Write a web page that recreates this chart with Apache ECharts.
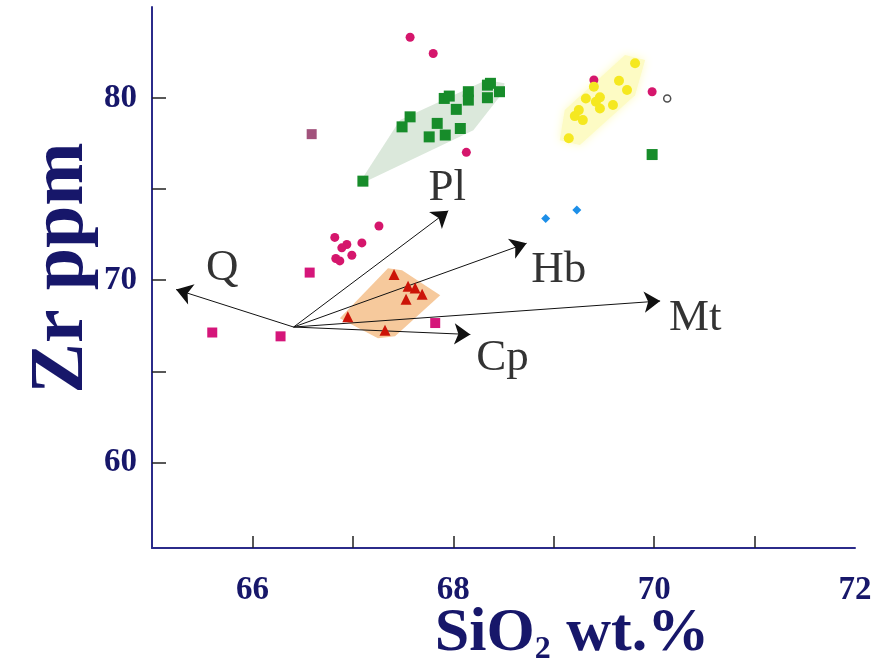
<!DOCTYPE html>
<html>
<head>
<meta charset="utf-8">
<script src="https://cdn.jsdelivr.net/npm/echarts@6/dist/echarts.min.js"></script>
<style>
  html, body { margin: 0; padding: 0; background: #fff; }
  #chart { width: 879px; height: 662px; }
</style>
</head>
<body>
<div id="chart"></div>
<script>
// 刻度
const xTickValues = [66, 67, 68, 69, 70, 71];
const xLabelValues = [66, 68, 70, 72];
const yTickValues = [60, 65, 70, 75, 80];
const yLabelValues = [60, 70, 80];

// 数据点 [SiO2, Zr]
const greenSquares = [
  [67.10, 75.44], [67.49, 78.42], [67.57, 78.97], [67.76, 77.87], [67.84, 78.61],
  [67.92, 77.97], [67.91, 79.98], [67.96, 80.11], [68.03, 79.38], [68.07, 78.33],
  [68.15, 80.35], [68.15, 79.89], [68.34, 80.71], [68.34, 80.02], [68.37, 80.81],
  [68.46, 80.35], [69.98, 76.90]
];
const mauveSquares = [[66.59, 78.02]];
const pinkSquares = [[66.57, 70.42], [67.82, 67.65], [65.60, 67.13], [66.28, 66.92]];
const pinkCircles = [
  [67.57, 83.34], [67.80, 82.45], [68.13, 77.02], [69.40, 80.99], [69.98, 80.35],
  [67.26, 72.98], [66.82, 72.35], [66.94, 71.96], [66.89, 71.78], [67.09, 72.05],
  [66.99, 71.37], [66.83, 71.19], [66.87, 71.06]
];
const openCircles = [[70.13, 79.98]];
const redTriangles = [
  [67.41, 70.31], [67.55, 69.67], [67.62, 69.58], [67.69, 69.23], [67.53, 68.96],
  [66.95, 68.00], [67.32, 67.25]
];
const yellowCircles = [
  [69.81, 81.91], [69.15, 77.79], [69.65, 80.95], [69.73, 80.44], [69.40, 80.62],
  [69.32, 79.98], [69.46, 80.04], [69.42, 79.80], [69.46, 79.43], [69.59, 79.62],
  [69.25, 79.34], [69.21, 79.01], [69.29, 78.79]
];
const blueDiamonds = [[68.92, 73.39], [69.23, 73.85]];

// 区域
const greenField = [[67.05, 75.22], [67.47, 78.79], [68.33, 80.99], [68.51, 80.81], [68.50, 80.35], [68.20, 78.24]];
const yellowField = [[69.06, 77.69], [69.11, 79.34], [69.71, 82.36], [69.91, 82.09], [69.81, 80.16], [69.26, 77.42]];
const orangeField = [[66.87, 67.91], [67.35, 70.66], [67.49, 70.55], [67.87, 69.18], [67.42, 66.92], [67.25, 66.81]];

// 矢量
const vectorOrigin = [66.41, 67.43];
const vectorNames = ["Q", "Pl", "Hb", "Mt", "Cp"];
const vectorEnds = [[65.24, 69.49], [67.95, 73.81], [68.73, 72.03], [70.06, 68.86], [68.17, 67.02]];
const vectorLabelPos = [[65.70, 70.66], [67.94, 75.05], [69.05, 70.55], [70.41, 67.91], [68.49, 65.71]];

const navy = "#17176a";
const serif = '"Liberation Serif", "Times New Roman", serif';

function polygonSeries(points, fill, blur) {
  return {
    type: "custom",
    silent: true,
    z: 1,
    data: [0],
    renderItem: (params, api) => ({
      type: "polygon",
      shape: { points: points.map((p) => api.coord(p)) },
      style: { fill: fill, shadowBlur: blur || 0, shadowColor: fill },
    }),
  };
}

function scatter(data, symbol, size, color, extra) {
  return Object.assign({
    type: "scatter",
    z: 5,
    symbol: symbol,
    symbolSize: size,
    data: data,
    itemStyle: { color: color, opacity: 1 },
  }, extra || {});
}

const options = {
  animation: false,
  grid: { left: 152, right: 24, top: 7, bottom: 114 },
  xAxis: {
    type: "value",
    min: 65,
    max: 72,
    axisLine: { show: true, lineStyle: { color: "#2b2b8a", width: 2 } },
    axisTick: { show: true, inside: true, length: 12, customValues: xTickValues, lineStyle: { color: "#222", width: 1.5 } },
    axisLabel: {
      customValues: xLabelValues,
      margin: 26,
      color: navy,
      fontFamily: serif,
      fontWeight: "bold",
      fontSize: 33,
    },
    splitLine: { show: false },
  },
  yAxis: {
    type: "value",
    min: 55.3,
    max: 85,
    axisLine: { show: true, lineStyle: { color: "#2b2b8a", width: 2 } },
    axisTick: { show: true, inside: true, length: 14, customValues: yTickValues, lineStyle: { color: "#222", width: 1.5 } },
    axisLabel: {
      customValues: yLabelValues,
      margin: 15,
      color: navy,
      fontFamily: serif,
      fontWeight: "bold",
      fontSize: 33,
    },
    splitLine: { show: false },
  },
  graphic: [
    {
      type: "text",
      x: 62,
      y: 268,
      rotation: Math.PI / 2,
      style: {
        text: "Zr ppm",
        fill: navy,
        font: "bold 76px " + serif,
        align: "center",
        verticalAlign: "middle",
      },
    },
    {
      type: "text",
      x: 572,
      y: 634,
      style: {
        text: "{a|SiO}{b|2}{a| wt.%}",
        align: "center",
        verticalAlign: "middle",
        rich: {
          a: { fill: navy, fontFamily: serif, fontWeight: "bold", fontSize: 62 },
          b: { fill: navy, fontFamily: serif, fontWeight: "bold", fontSize: 32, padding: [32, 0, 0, 0] },
        },
      },
    },
  ],
  series: [
    polygonSeries(greenField, "#dbe8db"),
    polygonSeries(yellowField, "#fdfbc4", 10),
    polygonSeries(orangeField, "#f6c99c"),
    {
      type: "lines",
      coordinateSystem: "cartesian2d",
      z: 3,
      symbol: ["none", "arrow"],
      symbolSize: 16,
      lineStyle: { color: "#111", width: 1, opacity: 1 },
      data: vectorEnds.map((end) => ({ coords: [vectorOrigin, end] })),
    },
    {
      type: "scatter",
      z: 4,
      symbolSize: 0,
      silent: true,
      data: vectorLabelPos.map((p, i) => ({ value: p, name: vectorNames[i] })),
      label: {
        show: true,
        position: "inside",
        formatter: "{b}",
        color: "#000",
        fontFamily: serif,
        fontSize: 45,
      },
    },
    scatter(greenSquares, "rect", 11, "#178c2a"),
    scatter(mauveSquares, "rect", 10, "#a2527c"),
    scatter(pinkSquares, "rect", 10, "#d5167a"),
    scatter(pinkCircles, "circle", 9, "#d5166c"),
    scatter(openCircles, "circle", 7, "#fff", { itemStyle: { color: "#fff", borderColor: "#222", borderWidth: 1.5 } }),
    scatter(redTriangles, "triangle", 11, "#cc1408"),
    scatter(yellowCircles, "circle", 10, "#f5e820"),
    scatter(blueDiamonds, "diamond", 9, "#1d8fe8"),
  ],
};

const chart = echarts.init(document.getElementById("chart"));
chart.setOption(options);
window.addEventListener("resize", () => {
  chart.resize();
});
</script>
</body>
</html>
